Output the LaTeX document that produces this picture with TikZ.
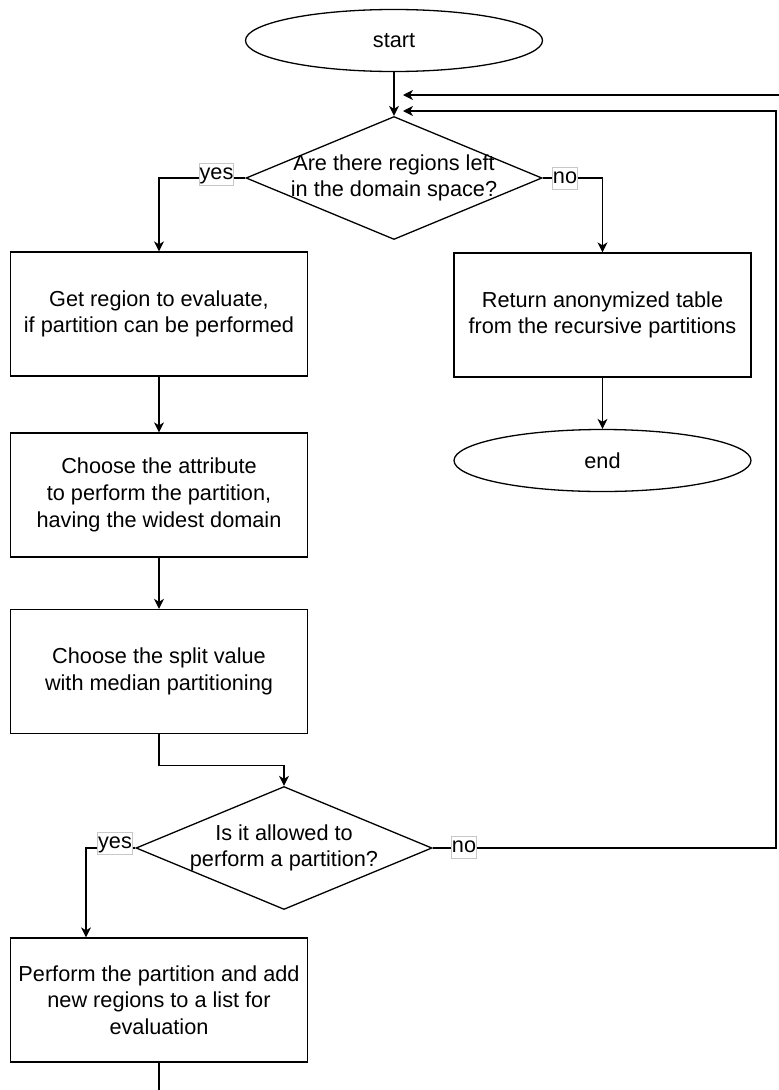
\documentclass[tikz,border=0pt]{standalone}
\usepackage{fontspec}
\setmainfont{Liberation Sans}
\usetikzlibrary{shapes.geometric,arrows.meta}
\begin{document}
\begin{tikzpicture}[x=1pt,y=-1pt,
  font=\fontsize{21.7}{26.7}\selectfont,
  line width=1.3pt,
  proc/.style={draw, rectangle, minimum width=297pt, minimum height=124pt, inner sep=0pt, align=center},
  term/.style={draw, ellipse, minimum width=297pt, minimum height=62pt, inner sep=0pt},
  dec/.style={draw, diamond, minimum width=296pt, minimum height=123pt, inner sep=0pt},
  txt/.style={align=center, inner sep=0pt},
  lbl/.style={draw=black!22, line width=0.8pt, fill=white, inner xsep=0.5pt, inner ysep=0pt, text height=16pt, text depth=6pt},
  arr/.style={-{Stealth[length=10pt,width=10pt,inset=3pt]}}
]
\useasboundingbox (0,0) rectangle (779,1090);

% nodes
\node[term] (start) at (394,40.5) {start};
\node[dec] (d1) at (394,178) {};
\node[txt] (t1) at (d1) {Are there regions left\\in the domain space?};
\node[proc] (b1) at (159,314) {Get region to evaluate,\\if partition can be performed};
\node[proc] (b2) at (602.5,315) {Return anonymized table\\from the recursive partitions};
\node[term] (end) at (602.5,460.5) {end};
\node[proc] (b3) at (159,495) {Choose the attribute\\to perform the partition,\\having the widest domain};
\node[proc] (b4) at (159,671.5) {Choose the split value\\with median partitioning};
\node[dec] (d2) at (284,848) {};
\node[txt] (t2) at (d2) {Is it allowed to\\perform a partition?};
\node[proc] (b5) at (159,1000) {Perform the partition and add\\new regions to a list for\\evaluation};

% helper coordinates
\coordinate (in1) at (403,95);
\coordinate (in2) at (403,111);
\coordinate (edgeR) at (779,95);
\coordinate (loopR) at (776,848);
\coordinate (bottom) at (159,1090);

% connectors
\draw[arr] (start) -- (d1);
\draw[arr] (d1.west) -| (b1.north);
\draw[arr] (d1.east) -| (b2.north);
\draw[arr] (b2) -- (end);
\draw[arr] (b1) -- (b3);
\draw[arr] (b3) -- (b4);
\draw[arr] (b4.south) -- ++(0,31) -| (d2.north);
\draw[arr] (d2.west) -| ([xshift=-73pt]b5.north);
\draw[arr] (d2.east) -- (loopR) |- (in2);
\draw[arr] (edgeR) -- (in1);
\draw (b5.south) -- (bottom);

% labels
\node[lbl] (y1) at (216.5,174) {yes};
\node[lbl] (n1) at (565,178) {no};
\node[lbl] (y2) at (115,843) {yes};
\node[lbl] (n2) at (464,847.5) {no};
\end{tikzpicture}
\end{document}
